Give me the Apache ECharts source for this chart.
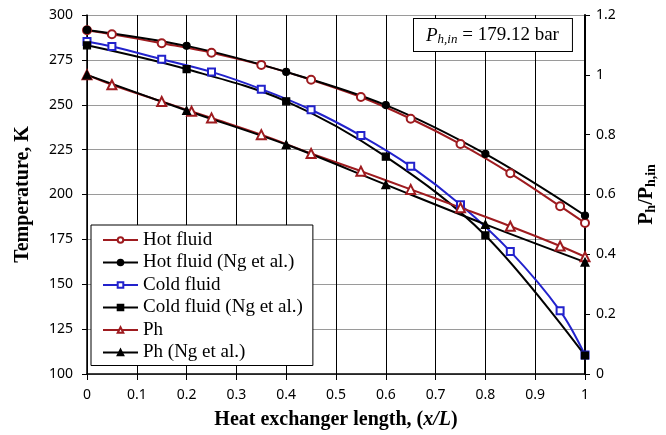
<!DOCTYPE html>
<html>
<head>
<meta charset="utf-8">
<script src="https://cdn.jsdelivr.net/npm/echarts@6/dist/echarts.min.js"></script>
<style>
  html, body { margin: 0; padding: 0; background: #fff; }
  #chart { width: 666px; height: 435px; }
</style>
</head>
<body>
<div id="chart"></div>
<script>
// model points
var xModel = [0, 0.05, 0.15, 0.25, 0.35, 0.45, 0.55, 0.65, 0.75, 0.85, 0.95, 1];
var hotFluid = [291.5, 289.3, 284.3, 279, 272.2, 263.9, 254.3, 242.2, 228.1, 211.8, 193.5, 184.1];
var coldFluid = [285.2, 282.4, 275.4, 268.3, 258.7, 247.2, 232.8, 215.7, 194.3, 168.3, 135.2, 110.6];
var xPh = [0, 0.05, 0.15, 0.21, 0.25, 0.35, 0.45, 0.55, 0.65, 0.75, 0.85, 0.95, 1];
var ph = [1.0, 0.967, 0.911, 0.878, 0.856, 0.8, 0.737, 0.678, 0.617, 0.556, 0.494, 0.428, 0.392];

// Ng et al. points
var xNg = [0, 0.2, 0.4, 0.6, 0.8, 1];
var hotNg = [291.7, 282.8, 268.3, 249.8, 222.6, 188.3];
var coldNg = [283.1, 269.8, 251.9, 221.1, 177.2, 110.3];
var phNg = [1.0, 0.881, 0.767, 0.633, 0.5, 0.374];

var RED = '#9e1b1f', BLUE = '#2222cc', BLACK = '#000';
var SERIF = '"Liberation Serif", "Times New Roman", serif';
var SANS = '"Noto Sans", "Open Sans", sans-serif';

function pairs(xs, ys) {
  return xs.map(function (x, i) { return [x, ys[i]]; });
}

function lineSeries(name, xs, ys, color, symbol, size, yIdx) {
  return {
    name: name,
    type: 'line',
    yAxisIndex: yIdx || 0,
    smooth: 0.35,
    symbol: symbol,
    symbolSize: size,
    showAllSymbol: true,
    lineStyle: { color: color, width: 2 },
    itemStyle: { color: color, borderColor: color, borderWidth: 1.2 },
    emphasis: { disabled: true },
    data: pairs(xs, ys)
  };
}

function initChart(dom) {
  var myChart = echarts.init(dom, null, { renderer: 'canvas' });
  var option = {
    animation: false,
    grid: { left: 87, right: 80, top: 15, bottom: 60 },
    legend: {
      orient: 'vertical',
      left: 91,
      top: 225,
      padding: [5, 10, 3, 11],
      itemGap: 2.5,
      itemWidth: 35,
      itemHeight: 7,
      backgroundColor: '#fff',
      borderColor: '#000',
      borderWidth: 1,
      borderRadius: 0,
      textStyle: { fontFamily: SERIF, fontSize: 19, color: '#000', lineHeight: 20 },
      data: ['Hot fluid', 'Hot fluid (Ng et al.)', 'Cold fluid', 'Cold fluid (Ng et al.)', 'Ph', 'Ph (Ng et al.)']
    },
    xAxis: {
      type: 'value',
      min: 0,
      max: 1,
      interval: 0.1,
      name: 'Heat exchanger length, ({i|x/L})',
      nameLocation: 'middle',
      nameGap: 36,
      nameTextStyle: {
        fontFamily: SERIF, fontSize: 20, fontWeight: 'bold', color: '#000',
        rich: { i: { fontFamily: SERIF, fontSize: 20, fontWeight: 'bold', fontStyle: 'italic', color: '#000' } }
      },
      axisLine: { show: true, lineStyle: { color: '#000', width: 1.5 } },
      axisTick: { show: true, length: 6, lineStyle: { color: '#000' } },
      axisLabel: { fontFamily: SANS, fontSize: 14, color: '#000', margin: 14 },
      splitLine: { show: true, lineStyle: { color: '#000', width: 1 } }
    },
    yAxis: [{
      type: 'value',
      min: 100,
      max: 300,
      interval: 25,
      name: 'Temperature, K',
      nameLocation: 'middle',
      nameGap: 54,
      nameRotate: 90,
      nameTextStyle: { fontFamily: SERIF, fontSize: 20, fontWeight: 'bold', color: '#000' },
      axisLine: { show: true, lineStyle: { color: '#000', width: 1.5 } },
      axisTick: { show: true, length: 5, lineStyle: { color: '#000' } },
      axisLabel: { fontFamily: SANS, fontSize: 14, color: '#000', margin: 14 },
      splitLine: { show: true, lineStyle: { color: '#9a9a9a', width: 1.2 } }
    }, {
      type: 'value',
      position: 'right',
      min: 0,
      max: 1.2,
      interval: 0.2,
      name: '{a|P}{s|h}{a|/P}{s|h,in}',
      nameLocation: 'middle',
      nameGap: 50,
      nameRotate: 90,
      nameTextStyle: {
        rich: {
          a: { fontFamily: SERIF, fontSize: 20, fontWeight: 'bold', color: '#000' },
          s: { fontFamily: SERIF, fontSize: 14, fontWeight: 'bold', color: '#000', padding: [9, 0, 0, 0] }
        }
      },
      axisLine: { show: true, lineStyle: { color: '#000', width: 2 } },
      axisTick: { show: true, length: 5, lineStyle: { color: '#000' } },
      axisLabel: { fontFamily: SANS, fontSize: 14, color: '#000', margin: 11 },
      splitLine: { show: false }
    }],
    graphic: [{
      type: 'text',
      left: 413,
      top: 18,
      z: 100,
      style: {
        text: '{p|P}{s|h,in}{n| = 179.12 bar}',
        backgroundColor: '#fff',
        borderColor: '#000',
        borderWidth: 1,
        padding: [6, 13, 5, 12],
        rich: {
          p: { fontFamily: SERIF, fontSize: 19, fontStyle: 'italic', fill: '#000' },
          s: { fontFamily: SERIF, fontSize: 13, fontStyle: 'italic', fill: '#000', padding: [8, 0, 0, 0] },
          n: { fontFamily: SERIF, fontSize: 19, fill: '#000' }
        }
      }
    }],
    series: [
      lineSeries('Hot fluid', xModel, hotFluid, RED, 'emptyCircle', 8),
      lineSeries('Hot fluid (Ng et al.)', xNg, hotNg, BLACK, 'circle', 7),
      lineSeries('Cold fluid', xModel, coldFluid, BLUE, 'emptyRect', 7),
      lineSeries('Cold fluid (Ng et al.)', xNg, coldNg, BLACK, 'rect', 7),
      lineSeries('Ph', xPh, ph, RED, 'emptyTriangle', 9, 1),
      lineSeries('Ph (Ng et al.)', xNg, phNg, BLACK, 'triangle', 8, 1)
    ]
  };
  myChart.setOption(option, true);
  window.addEventListener('resize', function () {
    myChart.resize();
  });
}

initChart(document.getElementById('chart'));
</script>
</body>
</html>
